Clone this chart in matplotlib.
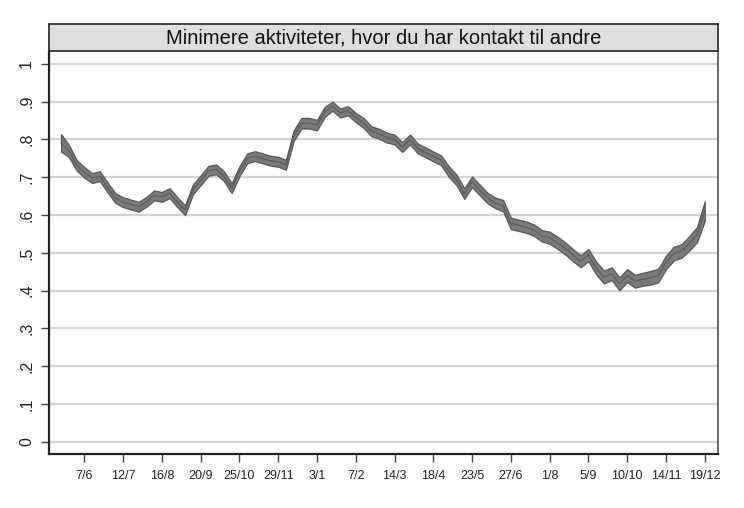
import numpy as np
import matplotlib.pyplot as plt
from matplotlib.ticker import FixedLocator

plt.rcParams['font.family'] = ['Liberation Sans', 'DejaVu Sans']

title = "Minimere aktiviteter, hvor du har kontakt til andre"

# weekly observations, week 0 = 17/5 (2020) ... week 83 = 19/12 (2021)
andel = [0.791, 0.770, 0.732, 0.713, 0.698, 0.703, 0.673, 0.645, 0.634, 0.628,
         0.622, 0.635, 0.652, 0.648, 0.658, 0.634, 0.613, 0.668, 0.692, 0.717,
         0.721, 0.703, 0.671, 0.716, 0.750, 0.756, 0.750, 0.744, 0.741, 0.733,
         0.810, 0.843, 0.843, 0.838, 0.873, 0.888, 0.870, 0.876, 0.858, 0.844,
         0.822, 0.815, 0.805, 0.800, 0.780, 0.800, 0.776, 0.766, 0.755, 0.745,
         0.715, 0.693, 0.657, 0.688, 0.666, 0.645, 0.632, 0.625, 0.578, 0.573,
         0.568, 0.560, 0.545, 0.540, 0.527, 0.512, 0.494, 0.478, 0.494, 0.460,
         0.436, 0.445, 0.418, 0.440, 0.425, 0.430, 0.434, 0.440, 0.474, 0.498,
         0.505, 0.525, 0.548, 0.610]
ci_halv = [0.023, 0.016, 0.014, 0.014, 0.013, 0.013, 0.013, 0.013, 0.013, 0.013,
           0.013, 0.013, 0.013, 0.013, 0.013, 0.013, 0.013, 0.013, 0.013, 0.013,
           0.013, 0.013, 0.013, 0.013, 0.013, 0.013, 0.013, 0.013, 0.013, 0.013,
           0.014, 0.014, 0.014, 0.014, 0.013, 0.012, 0.012, 0.012, 0.012, 0.013,
           0.013, 0.013, 0.013, 0.013, 0.013, 0.013, 0.013, 0.013, 0.013, 0.013,
           0.014, 0.014, 0.014, 0.014, 0.014, 0.014, 0.014, 0.015, 0.015, 0.015,
           0.015, 0.015, 0.015, 0.016, 0.016, 0.016, 0.016, 0.016, 0.016, 0.017,
           0.017, 0.017, 0.017, 0.017, 0.017, 0.017, 0.018, 0.018, 0.018, 0.018,
           0.018, 0.019, 0.020, 0.026]
tick_uger = [3, 8, 13, 18, 23, 28, 33, 38, 43, 48, 53, 58, 63, 68, 73, 78, 83]
tick_labels = ["7/6", "12/7", "16/8", "20/9", "25/10", "29/11", "3/1", "7/2", "14/3",
               "18/4", "23/5", "27/6", "1/8", "5/9", "10/10", "14/11", "19/12"]
y_ticks = [0, 0.1, 0.2, 0.3, 0.4, 0.5, 0.6, 0.7, 0.8, 0.9, 1]
y_labels = ["0", ".1", ".2", ".3", ".4", ".5", ".6", ".7", ".8", ".9", "1"]

uge = np.arange(len(andel))
andel = np.array(andel)
ci_halv = np.array(ci_halv)

fig = plt.figure(figsize=(7.44, 5.08), dpi=100)
ax = fig.add_axes([0.0659, 0.1063, 0.899, 0.7933])

for y in y_ticks:
    ax.axhline(y, color='#d4d4d4', lw=1.6, zorder=0)

ax.fill_between(uge, andel - ci_halv, andel + ci_halv, facecolor='#7a7a7a',
                edgecolor='#585858', lw=0.9, zorder=2)
ax.plot(uge, andel, color='#5c5c5c', lw=0.9, zorder=3)

ax.set_xlim(-1.55, 84.7)
ax.set_ylim(-0.032, 1.034)
ax.xaxis.set_major_locator(FixedLocator(tick_uger))
ax.set_xticklabels(tick_labels, fontsize=9, color='#222222')
ax.set_yticks(y_ticks)
ax.set_yticklabels(y_labels, rotation=90, va='center', fontsize=11.5, color='#222222')
ax.tick_params(axis='both', direction='out', length=5.8, width=1, color='#444444')
ax.tick_params(axis='x', pad=6)
ax.tick_params(axis='y', pad=5)

for side in ['left', 'bottom']:
    ax.spines[side].set_color('#222222')
    ax.spines[side].set_linewidth(1.6)
ax.spines['right'].set_color('#555555')
ax.spines['right'].set_linewidth(1.2)
ax.spines['top'].set_visible(False)

# title box on top of the plot area
tax = fig.add_axes([0.0659, 0.8996, 0.899, 27 / 508])
tax.set_facecolor('#dedede')
tax.set_xticks([])
tax.set_yticks([])
for s in tax.spines.values():
    s.set_color('#333333')
    s.set_linewidth(1.3)
tax.text(0.5, 0.48, title, ha='center', va='center', fontsize=14.5,
         color='#111111', transform=tax.transAxes)

fig.savefig('out.png', dpi=100, facecolor='white')
